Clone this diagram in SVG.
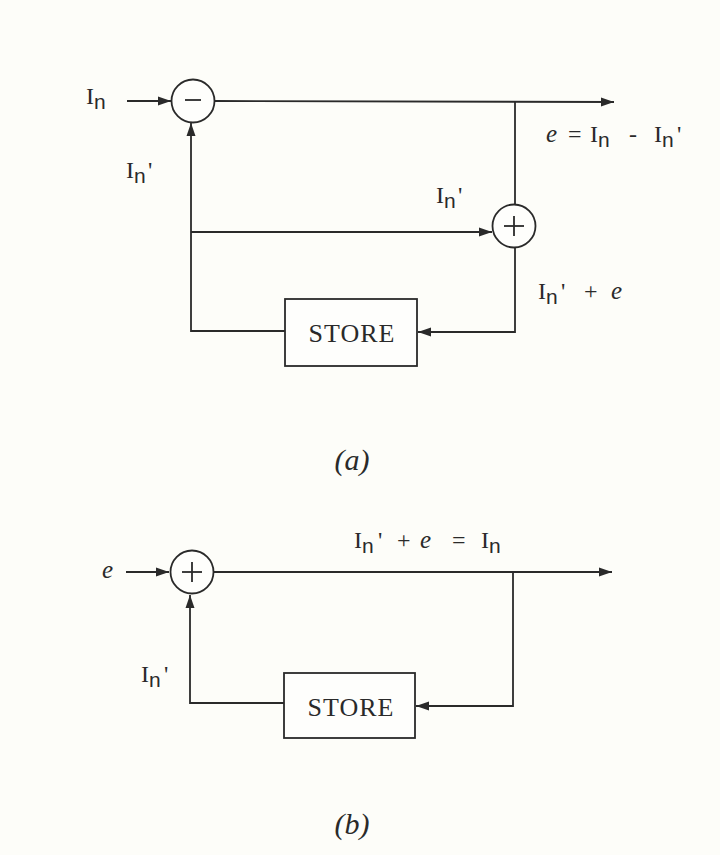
<svg xmlns="http://www.w3.org/2000/svg" width="720" height="855" viewBox="0 0 720 855">
<defs>
<style>
.ln{fill:none;stroke:#2a2a2a;stroke-width:1.8}
.nd{fill:#fefefc;stroke:#2a2a2a;stroke-width:1.8}
.sym{stroke:#2a2a2a;stroke-width:1.8}
.t{font-family:"Liberation Serif","DejaVu Serif",serif;font-size:24px;fill:#2a2a2a}
.sub{font-family:"Liberation Sans","DejaVu Sans",sans-serif;font-size:21px}
.it{font-style:italic;font-size:25px}
.st{font-family:"Liberation Serif","DejaVu Serif",serif;font-size:26px;letter-spacing:1px;fill:#2a2a2a;text-anchor:middle}
.cap{font-family:"Liberation Serif","DejaVu Serif",serif;font-size:30px;font-style:italic;fill:#2a2a2a;text-anchor:middle}
</style>
<marker id="ar" markerUnits="userSpaceOnUse" markerWidth="14" markerHeight="10" refX="13" refY="5" orient="auto">
<path d="M0,0.5 L13,5 L0,9.5 z" fill="#2a2a2a"/>
</marker>
</defs>
<rect width="720" height="855" fill="#fdfdf9"/>

<g id="connectors">
<path class="ln" d="M127,101 L171,101" marker-end="url(#ar)"/>
<path class="ln" d="M215,101 L614,102" marker-end="url(#ar)"/>
<path class="ln" d="M515,102 L515,204"/>
<path class="ln" d="M191,232 L492,232" marker-end="url(#ar)"/>
<path class="ln" d="M285,331 L191,331 L191,123" marker-end="url(#ar)"/>
<path class="ln" d="M515,247 L515,332 L418,332" marker-end="url(#ar)"/>
<path class="ln" d="M126,572 L169,572" marker-end="url(#ar)"/>
<path class="ln" d="M213,572 L612,572" marker-end="url(#ar)"/>
<path class="ln" d="M513,572 L513,706 L416,706" marker-end="url(#ar)"/>
<path class="ln" d="M284,703 L190,703 L190,595" marker-end="url(#ar)"/>
</g>

<g id="subtract-a">
<circle class="nd" cx="193" cy="101" r="21.5"/>
<line class="sym" x1="185" y1="100" x2="201" y2="100"/>
</g>
<g id="add-a">
<circle class="nd" cx="514" cy="226" r="21.5"/>
<line class="sym" x1="504" y1="226" x2="524" y2="226"/>
<line class="sym" x1="514" y1="216" x2="514" y2="236"/>
</g>
<g id="store-a">
<rect class="nd" x="285" y="299" width="132" height="67"/>
<text class="st" x="352" y="342">STORE</text>
</g>

<g id="add-b">
<circle class="nd" cx="192" cy="572" r="21.5"/>
<line class="sym" x1="182" y1="572" x2="202" y2="572"/>
<line class="sym" x1="192" y1="562" x2="192" y2="582"/>
</g>
<g id="store-b">
<rect class="nd" x="284" y="673" width="131" height="65"/>
<text class="st" x="351" y="716">STORE</text>
</g>

<g id="labels">
<text class="t" x="86" y="104">I<tspan class="sub" x="94" y="109">n</tspan></text>
<text class="t" x="126" y="178">I<tspan class="sub" x="134" y="183">n</tspan><tspan x="148" y="178">'</tspan></text>
<text class="t" x="436" y="203">I<tspan class="sub" x="444" y="208">n</tspan><tspan x="458" y="203">'</tspan></text>
<text class="t" x="546" y="142"><tspan class="it">e</tspan><tspan x="568">=</tspan><tspan x="590">I</tspan><tspan class="sub" x="598" y="147">n</tspan><tspan x="629" y="142">-</tspan><tspan x="654">I</tspan><tspan class="sub" x="662" y="147">n</tspan><tspan x="677" y="142">'</tspan></text>
<text class="t" x="538" y="299">I<tspan class="sub" x="546" y="304">n</tspan><tspan x="561" y="299">'</tspan><tspan x="584">+</tspan><tspan class="it" x="611">e</tspan></text>
<text class="t" x="102" y="578"><tspan class="it">e</tspan></text>
<text class="t" x="354" y="548">I<tspan class="sub" x="362" y="553">n</tspan><tspan x="378" y="548">'</tspan><tspan x="397">+</tspan><tspan class="it" x="420">e</tspan><tspan x="452">=</tspan><tspan x="481">I</tspan><tspan class="sub" x="489" y="553">n</tspan></text>
<text class="t" x="141" y="682">I<tspan class="sub" x="149" y="687">n</tspan><tspan x="164" y="682">'</tspan></text>
<text class="cap" x="352" y="470">(a)</text>
<text class="cap" x="352" y="834">(b)</text>
</g>
</svg>
